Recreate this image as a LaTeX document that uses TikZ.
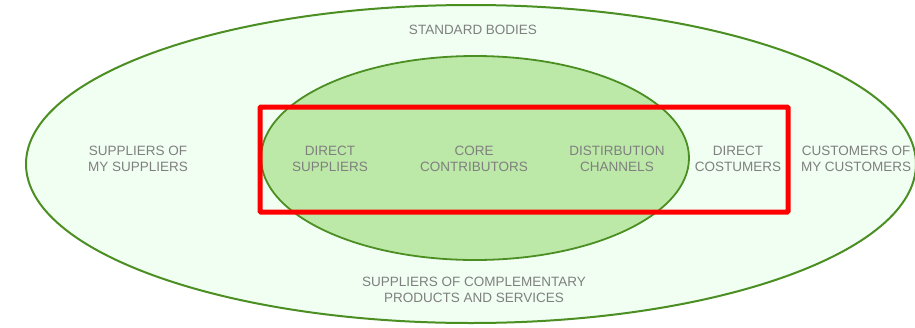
\documentclass[tikz,border=0pt]{standalone}
\usepackage{fontspec}
\setmainfont{Liberation Sans}
\usetikzlibrary{positioning}

\definecolor{outerfill}{HTML}{F1FFF3}
\definecolor{innerfill}{HTML}{BDE9A8}
\definecolor{rimgreen}{HTML}{4B8E22}
\definecolor{labelgray}{HTML}{7F7F7F}

\begin{document}
\begin{tikzpicture}[
    x=1pt, y=-1pt,
    zone/.style={draw=rimgreen, line width=2pt, fill=outerfill},
    core/.style={draw=rimgreen, line width=1.8pt, fill=innerfill},
    focus/.style={draw=red, line width=5pt, rounded corners=1pt},
    label/.style={align=center, text=labelgray, inner sep=0pt, font=\fontsize{13.5}{15.5}\selectfont}
]
\useasboundingbox (0,0) rectangle (915,327);

% Ecosystem areas
\draw[zone] (471,164) ellipse [x radius=445, y radius=159];
\draw[core] (475,158) ellipse [x radius=214, y radius=102];

% Labels
\node[label] (standard) at (473,30) {STANDARD BODIES};
\node[label] (suppsupp) at (138,159) {SUPPLIERS OF\\MY SUPPLIERS};
\node[label] (directsupp) at (330,159) {DIRECT\\SUPPLIERS};
\node[label] (contrib) at (474,159) {CORE\\CONTRIBUTORS};
\node[label] (channels) at (617,159) {DISTIRBUTION\\CHANNELS};
\node[label] (directcust) at (738,159) {DIRECT\\COSTUMERS};
\node[label] (custcust) at (856,159) {CUSTOMERS OF\\MY CUSTOMERS};
\node[label] (complement) at (474,290) {SUPPLIERS OF COMPLEMENTARY\\PRODUCTS AND SERVICES};

% Focus frame
\draw[focus] (260,107) rectangle (788,212);

\end{tikzpicture}
\end{document}
